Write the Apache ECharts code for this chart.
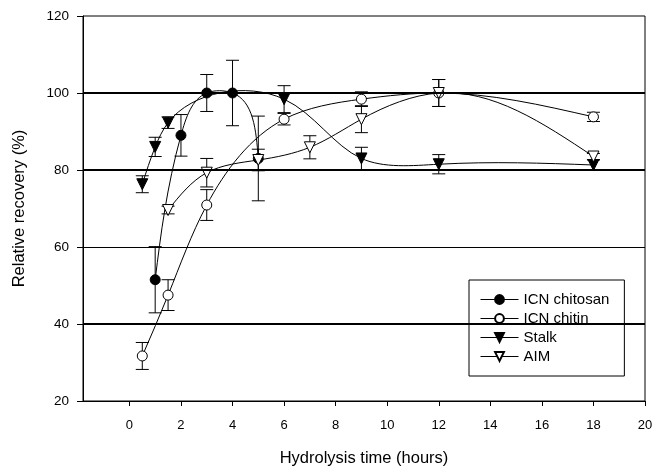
<!DOCTYPE html>
<html>
<head>
<meta charset="utf-8">
<title>Relative recovery</title>
<script src="https://cdn.jsdelivr.net/npm/echarts@6/dist/echarts.min.js"></script>
<style>
  body {margin: 0; background: #fff;}
  #main {width: 655px; height: 466px;}
</style>
</head>
<body>
<div id="main"></div>
<script>
// data
var xTicks = [0, 2, 4, 6, 8, 10, 12, 14, 16, 18, 20];
var gridValues = [40, 60, 80, 100];

var xChitosan = [1, 2, 3, 4, 5];
var yChitosan = [51.5, 89, 100, 100, 83];
var eChitosan = [8.6, 5.4, 4.8, 8.5, 11];

var xChitin = [0.5, 1.5, 3, 6, 9, 12, 18];
var yChitin = [31.7, 47.5, 70.9, 93.2, 98.4, 100, 93.8];
var eChitin = [3.5, 4, 4, 1.5, 1.9, 3.5, 1.2];

var xStalk = [0.5, 1, 1.5, 6, 9, 12, 18];
var yStalk = [76.3, 86, 92.3, 98.4, 83, 81.5, 81.3];
var eStalk = [2.2, 2.5, 1.5, 3.5, 2.9, 2.5, 1.3];

var xAim = [1.5, 3, 5, 7, 9, 12, 18];
var yAim = [69.6, 79.3, 82.6, 85.9, 93.2, 100, 83.5];
var eAim = [1, 3.7, 2.8, 3, 3.5, 3.5, 0.8];

var font = "'Liberation Sans', Arial, sans-serif";

function pts(xs, ys) {
  return xs.map(function (x, i) { return [x, ys[i]]; });
}
function bars(xs, ys, es) {
  return xs.map(function (x, i) { return [x, ys[i] - es[i], ys[i] + es[i]]; });
}

// natural cubic spline: second derivatives at each knot
function splineM(ts, vs) {
  var n = ts.length, M = new Array(n).fill(0);
  if (n < 3) return M;
  var a = [], b = [], c = [], d = [];
  for (var i = 1; i < n - 1; i++) {
    var h0 = ts[i] - ts[i - 1], h1 = ts[i + 1] - ts[i];
    a.push(h0); b.push(2 * (h0 + h1)); c.push(h1);
    d.push(6 * ((vs[i + 1] - vs[i]) / h1 - (vs[i] - vs[i - 1]) / h0));
  }
  var m = b.length;
  for (var k = 1; k < m; k++) {
    var w = a[k] / b[k - 1];
    b[k] -= w * c[k - 1];
    d[k] -= w * d[k - 1];
  }
  var sol = new Array(m);
  sol[m - 1] = d[m - 1] / b[m - 1];
  for (var k2 = m - 2; k2 >= 0; k2--) sol[k2] = (d[k2] - c[k2] * sol[k2 + 1]) / b[k2];
  for (var j = 0; j < m; j++) M[j + 1] = sol[j];
  return M;
}

// parametric spline (chord length) through the points as placed by the axes
function curve(xs, ys) {
  return {
    type: 'custom',
    data: pts(xs, ys),
    z: 2,
    silent: true,
    encode: {x: 0, y: 1},
    renderItem: function (params, api) {
      var i = params.dataIndex;
      if (i >= xs.length - 1) return {type: 'group', children: []};
      var P = xs.map(function (x, k) { return api.coord([x, ys[k]]); });
      var t = [0];
      for (var k = 1; k < P.length; k++) {
        t.push(t[k - 1] + Math.hypot(P[k][0] - P[k - 1][0], P[k][1] - P[k - 1][1]));
      }
      var px = P.map(function (p) { return p[0]; });
      var py = P.map(function (p) { return p[1]; });
      var Mx = splineM(t, px), My = splineM(t, py);
      var h = t[i + 1] - t[i];
      function d0(v, M) { return (v[i + 1] - v[i]) / h - h * (2 * M[i] + M[i + 1]) / 6; }
      function d1(v, M) { return (v[i + 1] - v[i]) / h + h * (M[i] + 2 * M[i + 1]) / 6; }
      return {
        type: 'bezierCurve',
        shape: {
          x1: px[i], y1: py[i],
          cpx1: px[i] + d0(px, Mx) * h / 3, cpy1: py[i] + d0(py, My) * h / 3,
          cpx2: px[i + 1] - d1(px, Mx) * h / 3, cpy2: py[i + 1] - d1(py, My) * h / 3,
          x2: px[i + 1], y2: py[i + 1]
        },
        style: {stroke: '#000', lineWidth: 1, fill: null}
      };
    }
  };
}

function errorBars(data) {
  return {
    type: 'custom',
    data: data,
    z: 1,
    silent: true,
    encode: {x: 0, y: [1, 2]},
    renderItem: function (params, api) {
      var x = api.value(0);
      var lo = api.coord([x, api.value(1)]);
      var hi = api.coord([x, api.value(2)]);
      var w = 6.5;
      var st = {stroke: '#000', lineWidth: 1};
      return {
        type: 'group',
        children: [
          {type: 'line', shape: {x1: lo[0], y1: lo[1], x2: hi[0], y2: hi[1]}, style: st},
          {type: 'line', shape: {x1: lo[0] - w, y1: lo[1], x2: lo[0] + w, y2: lo[1]}, style: st},
          {type: 'line', shape: {x1: hi[0] - w, y1: hi[1], x2: hi[0] + w, y2: hi[1]}, style: st}
        ]
      };
    }
  };
}

// markers only; the curve itself comes from curve()
function markerSeries(name, data, symbol, filled, rotate, size) {
  return {
    name: name,
    type: 'line',
    data: data,
    z: 3,
    symbol: symbol,
    symbolSize: size,
    symbolRotate: rotate,
    showAllSymbol: true,
    lineStyle: {color: '#000', width: 1, opacity: 0},
    itemStyle: {color: filled ? '#000' : '#fff', borderColor: '#000', borderWidth: 1},
    emphasis: {disabled: true}
  };
}

var chart = echarts.init(document.getElementById('main'));
chart.setOption({
  animation: false,
  textStyle: {fontFamily: font, color: '#000'},
  grid: {
    left: 83, right: 10, top: 16, bottom: 65,
    outerBoundsMode: 'none', containLabel: false,
    show: true, borderColor: '#000', borderWidth: 1
  },
  legend: {
    data: ['ICN chitosan', 'ICN chitin', 'Stalk', 'AIM'],
    orient: 'vertical',
    left: 469,
    top: 280,
    backgroundColor: '#fff',
    borderColor: '#000',
    borderWidth: 1,
    borderRadius: 0,
    padding: [12, 15, 12, 11],
    itemWidth: 38,
    itemHeight: 11,
    itemGap: 4,
    lineStyle: {color: '#000', width: 1, opacity: 1},
    textStyle: {fontFamily: font, fontSize: 15, color: '#000', lineHeight: 15}
  },
  xAxis: {
    type: 'value',
    min: -1.8,
    max: 20,
    name: 'Hydrolysis time (hours)',
    nameLocation: 'middle',
    nameGap: 49,
    nameTextStyle: {fontFamily: font, fontSize: 16.5, color: '#000'},
    axisLine: {onZero: false, lineStyle: {color: '#000', width: 1}},
    axisTick: {customValues: xTicks, length: 5, lineStyle: {color: '#000'}},
    axisLabel: {customValues: xTicks, margin: 18, fontSize: 13, color: '#000', fontFamily: font},
    splitLine: {show: false}
  },
  yAxis: {
    type: 'value',
    min: 20,
    max: 120,
    interval: 20,
    name: 'Relative recovery (%)',
    nameLocation: 'middle',
    nameGap: 55,
    nameTextStyle: {fontFamily: font, fontSize: 16.5, color: '#000'},
    axisLine: {show: true, onZero: false, lineStyle: {color: '#000', width: 1}},
    axisTick: {show: true, length: 6, lineStyle: {color: '#000'}},
    axisLabel: {margin: 14, fontSize: 13.5, color: '#000', fontFamily: font},
    splitLine: {show: false}
  },
  series: [
    {
      type: 'line',
      data: [],
      silent: true,
      z: 0,
      markLine: {
        silent: true,
        symbol: 'none',
        label: {show: false},
        lineStyle: {color: '#000', type: 'solid'},
        data: gridValues.map(function (v) {
          return {yAxis: v, lineStyle: {width: v === 60 ? 1 : 2}};
        })
      }
    },
    errorBars(bars(xChitosan, yChitosan, eChitosan)),
    errorBars(bars(xChitin, yChitin, eChitin)),
    errorBars(bars(xStalk, yStalk, eStalk)),
    errorBars(bars(xAim, yAim, eAim)),
    curve(xChitosan, yChitosan),
    curve(xChitin, yChitin),
    curve(xStalk, yStalk),
    curve(xAim, yAim),
    markerSeries('ICN chitosan', pts(xChitosan, yChitosan), 'circle', true, 0, 10),
    markerSeries('ICN chitin', pts(xChitin, yChitin), 'circle', false, 0, 10),
    markerSeries('Stalk', pts(xStalk, yStalk), 'triangle', true, 180, 11),
    markerSeries('AIM', pts(xAim, yAim), 'triangle', false, 180, 11)
  ]
});
</script>
</body>
</html>
